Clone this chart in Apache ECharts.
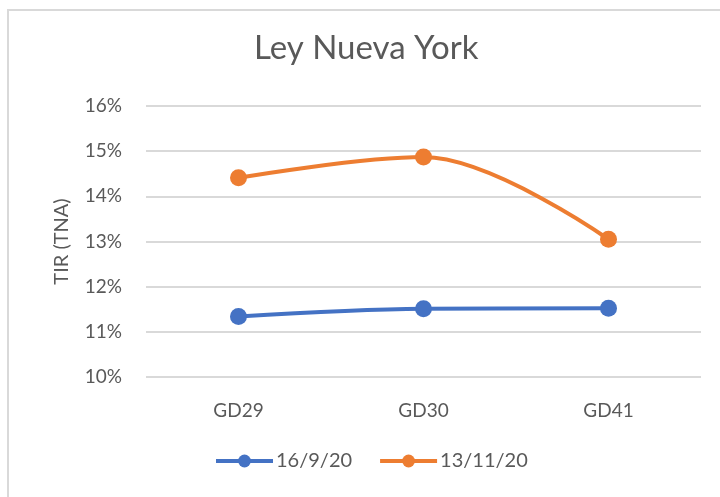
<!DOCTYPE html>
<html>
<head>
<meta charset="utf-8">
<script src="https://cdn.jsdelivr.net/npm/echarts@6/dist/echarts.min.js"></script>
<style>
  html, body { margin: 0; padding: 0; background: #fff; }
  #container { width: 720px; height: 497px; }
</style>
</head>
<body>
<div id="container"></div>
<script>
// datos
var categories = ['GD29', 'GD30', 'GD41'];
var sep16 = [11.34, 11.51, 11.52];
var nov13 = [14.41, 14.87, 13.05];
var seriesNames = ['16/9/20', '13/11/20'];

var textColor = '#595959';
var font = 'Lato';

var myChart = echarts.init(document.getElementById('container'));

var options = {
  animation: false,
  backgroundColor: '#fff',
  graphic: [{
    type: 'rect',
    shape: { x: 8, y: 10, width: 730, height: 510 },
    style: { fill: 'none', stroke: '#d9d9d9', lineWidth: 2 },
    silent: true
  }],
  title: {
    text: 'Ley Nueva York',
    left: 254,
    top: 32,
    padding: 0,
    textStyle: { color: textColor, fontFamily: font, fontSize: 33, fontWeight: 'normal' }
  },
  legend: {
    bottom: 21,
    left: 209,
    itemWidth: 57,
    itemHeight: 16,
    itemGap: 26,
    lineStyle: { width: 4 },
    textStyle: { color: textColor, fontFamily: font, fontSize: 20, padding: [0, 0, 0, -2] },
    data: seriesNames
  },
  grid: { left: 146, right: 19, top: 106, bottom: 120 },
  xAxis: {
    type: 'category',
    data: categories,
    axisLine: { show: false },
    axisTick: { show: false },
    axisLabel: { color: textColor, fontFamily: font, fontSize: 19, margin: 24 }
  },
  yAxis: {
    type: 'value',
    min: 10,
    max: 16,
    interval: 1,
    name: 'TIR (TNA)',
    nameLocation: 'middle',
    nameGap: 74,
    nameTextStyle: { color: textColor, fontFamily: font, fontSize: 20 },
    axisLabel: { formatter: '{value}%', color: textColor, fontFamily: font, fontSize: 19, margin: 24 },
    splitLine: { lineStyle: { color: '#d9d9d9', width: 2 } }
  },
  series: [{
    name: seriesNames[0],
    type: 'line',
    smooth: 0.35,
    symbol: 'circle',
    symbolSize: 17,
    data: sep16,
    itemStyle: { color: '#4472C4' },
    lineStyle: { color: '#4472C4', width: 4 }
  }, {
    name: seriesNames[1],
    type: 'line',
    smooth: 0.35,
    symbol: 'circle',
    symbolSize: 17,
    data: nov13,
    itemStyle: { color: '#ED7D31' },
    lineStyle: { color: '#ED7D31', width: 4 }
  }]
};

myChart.setOption(options);
</script>
</body>
</html>
